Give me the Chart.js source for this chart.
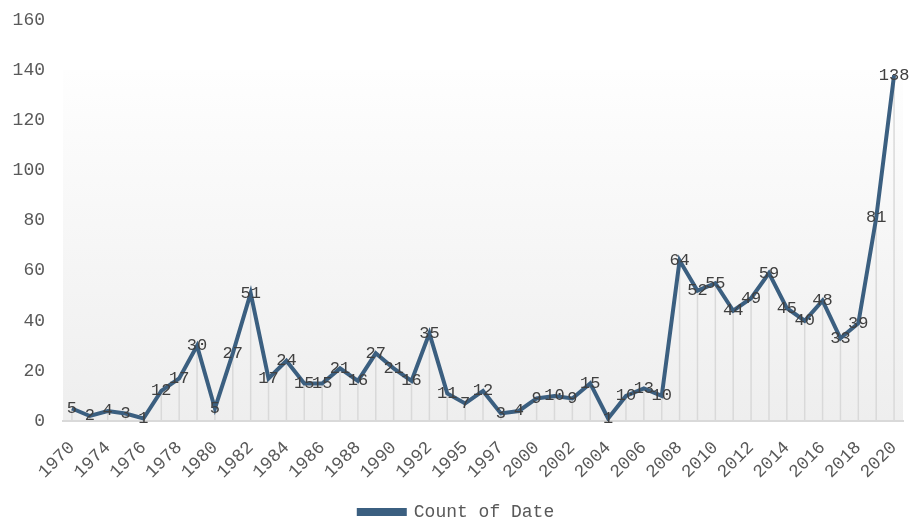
<!DOCTYPE html>
<html>
<head>
<meta charset="utf-8">
<script src="https://cdn.jsdelivr.net/npm/chart.js@4/dist/chart.umd.min.js"></script>
<style>
  html, body { margin: 0; padding: 0; background: #ffffff; }
  #wrap { width: 913px; height: 517px; }
</style>
</head>
<body>
<div id="wrap"><canvas id="c" width="913" height="517"></canvas></div>
<script>
const years = ["1970","1973","1974","1975","1976","1977","1978","1979","1980","1981",
  "1982","1983","1984","1985","1986","1987","1988","1989","1990","1991",
  "1992","1994","1995","1996","1997","1999","2000","2001","2002","2003",
  "2004","2005","2006","2007","2008","2009","2010","2011","2012","2013",
  "2014","2015","2016","2017","2018","2019","2020"];
const countOfDate = [5,2,4,3,1,12,17,30,5,27,
  51,17,24,15,15,21,16,27,21,16,
  35,11,7,12,3,4,9,10,9,15,
  1,10,13,10,64,52,55,44,49,59,
  45,40,48,33,39,81,138];
const yTicks = [0,20,40,60,80,100,120,140,160];
const seriesName = "Count of Date";

const FONT = "'Liberation Mono', 'DejaVu Sans Mono', monospace";
const LINE_COLOR = '#3b5f80';

const canvas = document.getElementById('c');
const ctx0 = canvas.getContext('2d');
if ('letterSpacing' in ctx0) ctx0.letterSpacing = '1px';

const decorPlugin = {
  id: 'decor',
  beforeDraw(chart) {
    const { ctx, chartArea, scales } = chart;
    const top = scales.y.getPixelForValue(140);
    const g = ctx.createLinearGradient(0, top, 0, chartArea.bottom);
    g.addColorStop(0, '#fefefe');
    g.addColorStop(1, '#eeeeee');
    ctx.save();
    ctx.fillStyle = g;
    ctx.fillRect(chartArea.left, top, chartArea.right - chartArea.left, chartArea.bottom - top);
    ctx.restore();
  },
  beforeDatasetsDraw(chart) {
    const { ctx, chartArea } = chart;
    const meta = chart.getDatasetMeta(0);
    ctx.save();
    ctx.strokeStyle = '#d9d9d9';
    ctx.lineWidth = 1.5;
    meta.data.forEach(p => {
      ctx.beginPath();
      ctx.moveTo(p.x, p.y);
      ctx.lineTo(p.x, chartArea.bottom);
      ctx.stroke();
    });
    ctx.restore();
  },
  afterDatasetsDraw(chart) {
    const { ctx } = chart;
    const meta = chart.getDatasetMeta(0);
    const data = chart.data.datasets[0].data;
    ctx.save();
    ctx.font = "17px " + FONT;
    ctx.fillStyle = '#404040';
    ctx.textAlign = 'center';
    ctx.textBaseline = 'middle';
    meta.data.forEach((p, i) => {
      ctx.fillText(String(data[i]), p.x, p.y);
    });
    ctx.restore();
  }
};

new Chart(canvas, {
  type: 'line',
  data: {
    labels: years,
    datasets: [{
      label: seriesName,
      data: countOfDate,
      borderColor: LINE_COLOR,
      backgroundColor: LINE_COLOR,
      borderWidth: 4,
      pointRadius: 0,
      tension: 0,
      fill: false
    }]
  },
  options: {
    responsive: false,
    animation: false,
    devicePixelRatio: 1,
    layout: { padding: { left: 10, right: 10, top: 20, bottom: -14 } },
    scales: {
      x: {
        type: 'category',
        offset: true,
        grid: { display: false, drawTicks: false },
        border: { display: true, color: '#d9d9d9', width: 2 },
        afterFit(scale) { scale.paddingLeft = 0; scale.paddingRight = 0; scale.height = 74; },
        ticks: {
          autoSkip: false,
          minRotation: 45,
          maxRotation: 45,
          padding: 16,
          color: '#595959',
          font: { family: FONT, size: 18 },
          callback: function(v, i) { return i % 2 === 0 ? years[i] : ''; }
        }
      },
      y: {
        min: 0,
        max: 160,
        afterBuildTicks(scale) { scale.ticks = yTicks.map(v => ({ value: v })); },
        afterFit(scale) { scale.width = 53; scale.paddingTop = 0; scale.paddingBottom = 0; },
        grid: { display: false, drawTicks: false },
        border: { display: false },
        ticks: {
          padding: 18,
          color: '#595959',
          font: { family: FONT, size: 18 }
        }
      }
    },
    plugins: {
      legend: {
        position: 'bottom',
        labels: {
          boxWidth: 46,
          boxHeight: 4,
          color: '#595959',
          padding: 8,
          font: { family: FONT, size: 18 }
        }
      },
      tooltip: { enabled: false }
    }
  },
  plugins: [decorPlugin]
});
</script>
</body>
</html>
